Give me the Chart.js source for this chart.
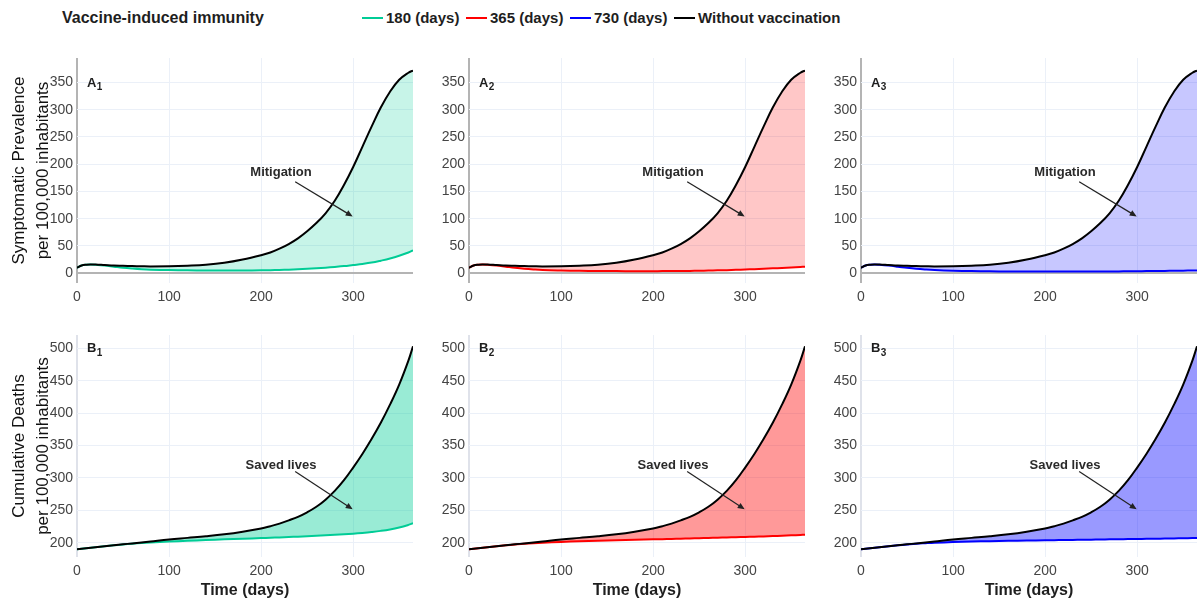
<!DOCTYPE html>
<html><head><meta charset="utf-8">
<script src="https://cdn.jsdelivr.net/npm/chart.js@4.4.0/dist/chart.umd.min.js"></script>
<style>
html,body{margin:0;padding:0;background:#fff;}
#wrap{position:relative;width:1200px;height:603px;overflow:hidden;font-family:"Liberation Sans",Arial,sans-serif;}
.panel{position:absolute;}
.leg{position:absolute;font-weight:bold;font-size:15px;color:#1e1e1e;line-height:18px;white-space:nowrap;top:9px;}
.sw{position:absolute;height:2px;width:21px;top:17px;}
</style></head><body>
<div id="wrap">
  <div class="leg" style="left:62px;font-size:16px;top:9px;">Vaccine-induced immunity</div>
  <div class="sw" style="left:362px;background:#00cc96"></div><div class="leg" style="left:386px">180 (days)</div>
  <div class="sw" style="left:466px;background:#ff0000"></div><div class="leg" style="left:490px">365 (days)</div>
  <div class="sw" style="left:570px;background:#0000ff"></div><div class="leg" style="left:594px">730 (days)</div>
  <div class="sw" style="left:674px;background:#000000"></div><div class="leg" style="left:698px">Without vaccination</div>
</div>
<script>
// ---- data ----
const days = [0,5,10,15,20,30,40,50,60,70,80,100,120,140,160,180,200,210,220,230,240,250,260,270,280,290,300,310,320,330,340,350,360,365];

const prevNoVax = [10,14,15.5,16,16,15,14,13.5,13,12.7,12.5,12.8,13.8,15.5,19,25,33,38,45,53.5,64,77,92,110,133,162,195,232,269,304,333,355,368,372];
const prev180   = [10,14,15.5,16,15.5,14,12,10,8.5,7.3,6.5,5.7,5.3,5,5,5,5.3,5.6,6,6.5,7.2,8,9,10.2,11.5,13,15,17,19.5,23,27,32,38,42];
const prev365   = [10,14,15.5,16,15.5,14,12,10,8.3,7,6,5,4.3,4,3.8,3.7,3.7,3.8,3.9,4,4.2,4.5,4.8,5.2,5.6,6.1,6.7,7.4,8.1,8.9,9.7,10.6,11.5,12];
const prev730   = [10,14,15.5,16,15.5,14,12,9.8,8,6.7,5.7,4.5,3.8,3.4,3.1,3,2.9,2.9,2.9,2.9,3,3,3.1,3.2,3.3,3.4,3.6,3.8,4,4.2,4.4,4.6,4.9,5];

const deathsNoVax = [190,190.8,191.5,192.3,193,194.5,196,197.5,199,200.5,202,205,207.5,210,213,217,222,225.5,229.5,234.5,240,247,255.5,266.5,280,296.5,316,337,360,385,413,444,481,503];
const deaths180   = [190,190.8,191.5,192.3,193,194.5,196,197.3,198.5,199.5,200.3,201.8,203,204.2,205.2,206.2,207.2,207.7,208.2,208.8,209.4,210,210.7,211.4,212.2,213,214,215.2,216.6,218.3,220.5,223.5,227.5,230];
const deaths365   = [190,190.8,191.5,192.3,193,194.5,196,197.3,198.5,199.4,200.1,201.3,202.3,203.1,203.8,204.5,205.2,205.5,205.9,206.2,206.6,207,207.4,207.8,208.2,208.6,209,209.4,209.8,210.3,210.8,211.4,212.1,212.5];
const deaths730   = [190,190.8,191.5,192.3,193,194.5,196,197.3,198.5,199.3,200,201,201.8,202.4,202.9,203.4,203.8,204,204.2,204.4,204.6,204.8,205,205.2,205.4,205.6,205.8,206,206.2,206.4,206.6,206.9,207.2,207.4];

const xTicks = [0,100,200,300];
const yTicksA = [0,50,100,150,200,250,300,350];
const yTicksB = [200,250,300,350,400,450,500];

const noteA = {text:'Mitigation', at:[221.6,185], tail:[237,168], head:[299.5,104]};
const noteB = {text:'Saved lives', at:[221.6,320], tail:[237,310], head:[299.5,251.5]};

// ---- styling / layout ----
const FONT = '"Liberation Sans", Arial, sans-serif';
const colors = {c180:'#00cc96', c365:'#ff0000', c730:'#0000ff'};
function rgba(hex,a){const n=parseInt(hex.slice(1),16);return `rgba(${n>>16},${(n>>8)&255},${n&255},${a})`;}
function pts(vals){return days.map((d,i)=>({x:d,y:vals[i]}));}

const decor = {
  id:'decor',
  afterDatasetsDraw(chart, args, o){
    const {ctx, chartArea, scales:{x,y}} = chart;
    ctx.save();
    const by = y.getPixelForValue(o.topTick) + 4;
    const bx = chartArea.left + 10;
    ctx.fillStyle = '#1e1e1e';
    ctx.textBaseline = 'alphabetic';
    ctx.textAlign = 'left';
    ctx.font = `bold 13px ${FONT}`;
    ctx.fillText(o.letter, bx, by);
    const w = ctx.measureText(o.letter).width;
    ctx.font = `bold 10px ${FONT}`;
    ctx.fillText(o.sub, bx + w + 0.3, by + 3.5);
    const n = o.note;
    ctx.font = `bold 13px ${FONT}`;
    ctx.textAlign = 'center';
    ctx.textBaseline = 'middle';
    ctx.fillStyle = '#2a2a2a';
    ctx.fillText(n.text, x.getPixelForValue(n.at[0]), y.getPixelForValue(n.at[1]));
    const x0 = x.getPixelForValue(n.tail[0]), y0 = y.getPixelForValue(n.tail[1]);
    const x1 = x.getPixelForValue(n.head[0]), y1 = y.getPixelForValue(n.head[1]);
    const ang = Math.atan2(y1-y0, x1-x0);
    const L = 7, W = 3;
    ctx.strokeStyle = '#222'; ctx.lineWidth = 1.2;
    ctx.beginPath(); ctx.moveTo(x0,y0);
    ctx.lineTo(x1 - L*Math.cos(ang)*0.8, y1 - L*Math.sin(ang)*0.8); ctx.stroke();
    ctx.beginPath();
    ctx.moveTo(x1,y1);
    ctx.lineTo(x1 - L*Math.cos(ang) + W*Math.sin(ang), y1 - L*Math.sin(ang) - W*Math.cos(ang));
    ctx.lineTo(x1 - L*Math.cos(ang) - W*Math.sin(ang), y1 - L*Math.sin(ang) + W*Math.cos(ang));
    ctx.closePath(); ctx.fillStyle = '#222'; ctx.fill();
    ctx.restore();
  }
};

const cols = [
  {left:0,   width:418, yW:77, padR:5},
  {left:425, width:385, yW:44, padR:5},
  {left:818, width:382, yW:43, padR:3}
];
const rows = [
  {top:40,  height:270, padT:18, xH:27, min:-18, max:395, ticks:yTicksA, fillA:0.22,
   title:['Symptomatic Prevalence','per 100,000 inhabitants'], letter:'A', note:noteA, xTitle:false,
   series:[prev180,prev365,prev730], base:prevNoVax},
  {top:318, height:285, padT:17, xH:46, min:178, max:520.5, ticks:yTicksB, fillA:0.4,
   title:['Cumulative Deaths','per 100,000 inhabitants'], letter:'B', note:noteB, xTitle:true,
   series:[deaths180,deaths365,deaths730], base:deathsNoVax}
];
const colKeys = ['c180','c365','c730'];

const wrap = document.getElementById('wrap');
rows.forEach((r, ri) => {
  cols.forEach((c, ci) => {
    const div = document.createElement('div');
    div.className = 'panel';
    div.style.left = c.left + 'px'; div.style.top = r.top + 'px';
    const cv = document.createElement('canvas');
    cv.width = c.width; cv.height = r.height;
    cv.style.width = c.width + 'px'; cv.style.height = r.height + 'px';
    div.appendChild(cv); wrap.appendChild(div);
    const col = colors[colKeys[ci]];
    new Chart(cv, {
      type:'line',
      data:{datasets:[
        {label:'vacc', data:pts(r.series[ci]), borderColor:col, borderWidth:2, pointRadius:0,
         tension:0.4, fill:false, order:1},
        {label:'novacc', data:pts(r.base), borderColor:'#000', borderWidth:2, pointRadius:0,
         tension:0.4, fill:{target:0}, backgroundColor:rgba(col, r.fillA), order:0}
      ]},
      options:{
        responsive:false, animation:false, devicePixelRatio:1,
        layout:{padding:{top:r.padT, right:c.padR, left:0, bottom:0}, autoPadding:false},
        plugins:{legend:{display:false}, tooltip:{enabled:false},
          decor:{letter:r.letter, sub:String(ci+1), note:r.note, topTick:r.ticks[r.ticks.length-1]}},
        scales:{
          x:{type:'linear', min:0, max:365,
             afterBuildTicks:(s)=>{s.ticks = xTicks.map(v=>({value:v}));},
             afterFit:(s)=>{s.height = r.xH;},
             border:{display:false},
             grid:{drawTicks:false, color:(ctx)=> ctx.tick && ctx.tick.value===0 ? (ri===0?'#b4b4b4':'#dfe2ea') : '#ebf0f8',
                   lineWidth:(ctx)=> ctx.tick && ctx.tick.value===0 ? 2 : 1},
             ticks:{padding:6, color:'#444', font:{family:FONT, size:14}, maxRotation:0},
             title:{display:r.xTitle, text:'Time (days)', color:'#1e1e1e', font:{family:FONT, size:16, weight:'bold', lineHeight:1.2}, padding:{top:0,bottom:3}}
          },
          y:{type:'linear', min:r.min, max:r.max,
             afterBuildTicks:(s)=>{s.ticks = r.ticks.map(v=>({value:v}));},
             afterFit:(s)=>{s.width = c.yW;},
             border:{display:false},
             grid:{drawTicks:false, color:(ctx)=> ctx.tick && ctx.tick.value===0 ? '#b4b4b4' : '#ebf0f8',
                   lineWidth:(ctx)=> ctx.tick && ctx.tick.value===0 ? 2 : 1},
             ticks:{padding:4, color:'#444', font:{family:FONT, size:14}},
             title:{display:ci===0, text:r.title, color:'#111', font:{family:FONT, size:17, lineHeight:1.41}, padding:{top:7,bottom:0}}
          }
        }
      },
      plugins:[decor]
    });
  });
});
</script>
</body></html>
